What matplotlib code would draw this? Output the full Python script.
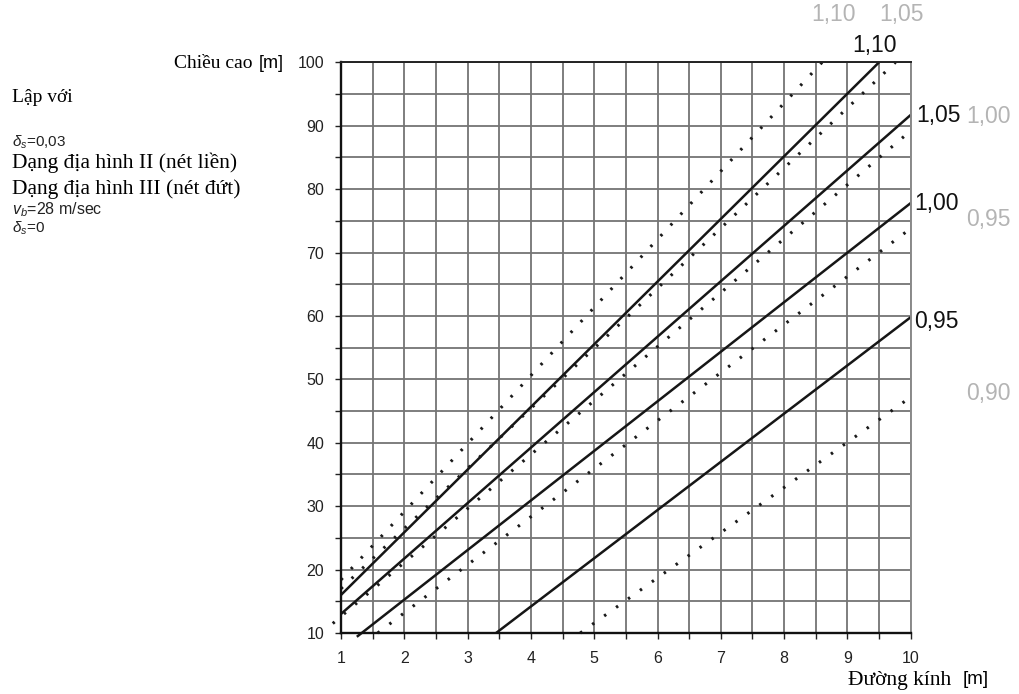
import matplotlib
matplotlib.use("Agg")
import matplotlib.pyplot as plt
from matplotlib.ticker import MultipleLocator

plt.rcParams['mathtext.fontset'] = 'custom'
plt.rcParams['mathtext.rm'] = 'Liberation Sans'
plt.rcParams['mathtext.it'] = 'Liberation Sans:italic'

SERIF = ['Liberation Serif', 'DejaVu Serif']
SANS = ['Liberation Sans', 'DejaVu Sans']

# Terrain category II (solid lines): end points (diameter, height)
solid_labels = ['1,10', '1,05', '1,00', '0,95']
solid_x = [[1.0, 9.5], [1.0, 10.0], [1.25, 10.0], [3.45, 10.0]]
solid_y = [[16.0, 100.0], [13.0, 91.7], [9.4, 77.8], [10.0, 59.8]]

# Terrain category III (dotted lines)
dotted_labels = ['1,10', '1,05', '1,00', '0,95', '0,90']
dotted_x = [[1.0, 8.6], [1.0, 9.76], [0.87, 10.0], [1.58, 10.0], [4.78, 10.0]]
dotted_y = [[18.4, 100.0], [17.0, 100.0], [11.5, 89.2], [10.0, 73.8], [10.0, 47.2]]

x_ticks = [1, 2, 3, 4, 5, 6, 7, 8, 9, 10]
y_ticks = [10, 20, 30, 40, 50, 60, 70, 80, 90, 100]

W, H = 1019, 694
fig = plt.figure(figsize=(W / 100, H / 100), dpi=100)
ax = fig.add_axes([341 / W, 1 - 633 / H, (910.7 - 341) / W, (633 - 62.3) / H])

ax.set_xlim(1, 10)
ax.set_ylim(10, 100)
ax.xaxis.set_minor_locator(MultipleLocator(0.5))
ax.yaxis.set_minor_locator(MultipleLocator(5))
ax.set_xticks(x_ticks)
ax.set_yticks(y_ticks)
ax.set_xticklabels([str(v) for v in x_ticks])
ax.set_yticklabels([str(v) for v in y_ticks])

ax.grid(True, which='both', color='#747474', linewidth=1.3)
ax.set_axisbelow(True)
ax.tick_params(which='both', direction='out', length=4, width=1.0, color='#222222')
ax.tick_params(axis='y', which='both', pad=8, labelsize=11.5, labelcolor='#222222')
ax.tick_params(axis='x', which='both', pad=9, labelsize=11.5, labelcolor='#222222')
for lab in ax.get_xticklabels() + ax.get_yticklabels():
    lab.set_family(SANS)

for side in ['left', 'bottom']:
    ax.spines[side].set_color('#111111')
    ax.spines[side].set_linewidth(1.7)
ax.spines['top'].set_color('#222222')
ax.spines['top'].set_linewidth(1.4)
ax.spines['right'].set_color('#8a8a8a')
ax.spines['right'].set_linewidth(1.4)

for xs, ys in zip(solid_x, solid_y):
    ax.plot(xs, ys, color='#161616', linewidth=1.8, clip_on=False,
            solid_capstyle='butt')

for xs, ys in zip(dotted_x, dotted_y):
    ax.plot(xs, ys, color='#1a1a1a', linewidth=2.2, clip_on=False,
            linestyle=(0, (0.8, 4.0)), dash_capstyle='butt')

# Curve labels
lab_kw = dict(fontsize=16.5, family=SANS, clip_on=False, va='center')
ax.text(9.43, 102.7, solid_labels[0], ha='center', color='#111111', **lab_kw)
ax.text(10.08, 91.65, solid_labels[1], ha='left', color='#111111', **lab_kw)
ax.text(10.06, 77.8, solid_labels[2], ha='left', color='#111111', **lab_kw)
ax.text(10.06, 59.2, solid_labels[3], ha='left', color='#111111', **lab_kw)

grey = '#b4b4b4'
ax.text(8.78, 107.6, dotted_labels[0], ha='center', color=grey, **lab_kw)
ax.text(9.85, 107.6, dotted_labels[1], ha='center', color=grey, **lab_kw)
ax.text(10.88, 91.4, dotted_labels[2], ha='left', color=grey, **lab_kw)
ax.text(10.88, 75.2, dotted_labels[3], ha='left', color=grey, **lab_kw)
ax.text(10.88, 47.7, dotted_labels[4], ha='left', color=grey, **lab_kw)

def fx(px):
    return px / W

def fy(py):
    return 1 - py / H

# Axis titles
fig.text(fx(174), fy(63), 'Chiều cao', family=SERIF, fontsize=14, va='center', ha='left')
fig.text(fx(259), fy(64), '[m]', family=SANS, fontsize=13, va='center', ha='left')
fig.text(fx(848), fy(680), 'Đường kính', family=SERIF, fontsize=15.5, va='center', ha='left')
fig.text(fx(963), fy(679), '[m]', family=SANS, fontsize=13.5, va='center', ha='left')

# Notes on the left
fig.text(fx(12), fy(98), 'Lập với', family=SERIF, fontsize=14, va='center', ha='left')
fig.text(fx(12), fy(142), r'$\delta_{s}$=0,03', family=SANS, fontsize=11, va='center', ha='left',
         color='#222222')
fig.text(fx(12), fy(163), 'Dạng địa hình II (nét liền)', family=SERIF, fontsize=15.5,
         va='center', ha='left')
fig.text(fx(12), fy(189), 'Dạng địa hình III (nét đứt)', family=SERIF, fontsize=15.5,
         va='center', ha='left')
fig.text(fx(12), fy(210), r'$v_{b}$=28 m/sec', family=SANS, fontsize=11.5, va='center', ha='left',
         color='#222222')
fig.text(fx(12), fy(228), r'$\delta_{s}$=0', family=SANS, fontsize=11, va='center', ha='left',
         color='#222222')

fig.savefig('out.png', dpi=100, facecolor='white')
